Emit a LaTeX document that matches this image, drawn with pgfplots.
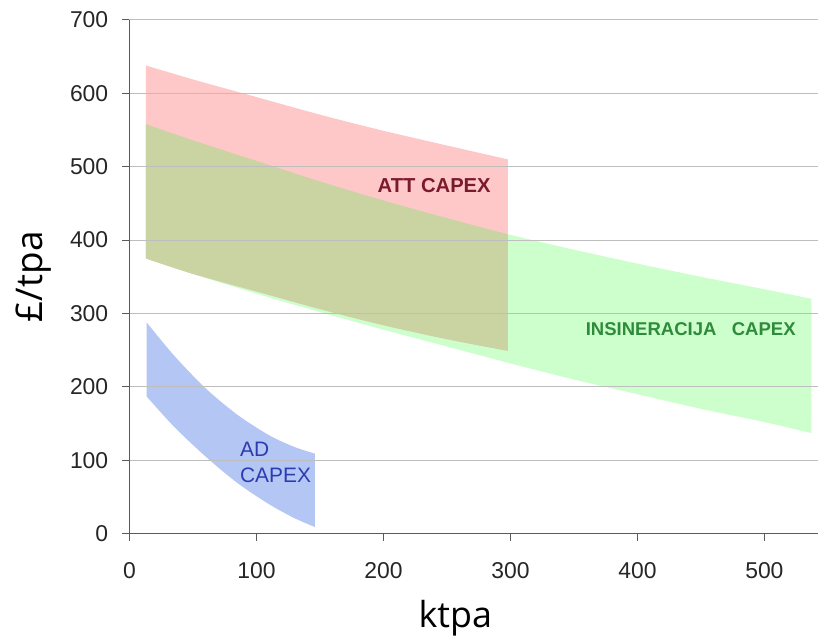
\documentclass[border=0pt]{standalone}
\usepackage{pgfplots}
\pgfplotsset{compat=1.18}
\usepgfplotslibrary{fillbetween}
\usepackage{fontspec}
\setmainfont{Liberation Sans}
\newfontfamily\labelfont{Open Sans}
\definecolor{attfill}{RGB}{255,200,200}
\definecolor{insfill}{RGB}{204,255,204}
\definecolor{overlapfill}{RGB}{202,212,162}
\definecolor{adfill}{RGB}{180,198,243}
\definecolor{atttext}{RGB}{122,26,46}
\definecolor{instext}{RGB}{46,139,58}
\definecolor{adtext}{RGB}{44,60,176}
\definecolor{axisgray}{RGB}{90,90,90}
\definecolor{gridgray}{RGB}{190,190,190}
\begin{document}
\begin{tikzpicture}
\begin{axis}[
  scale only axis, width=689.5bp, height=514bp,
  xmin=0, xmax=542.5, ymin=0, ymax=700,
  axis lines=left, axis line style={-, axisgray, line width=1.3bp},
  xtick={0,100,...,500}, ytick={0,100,...,700},
  tick align=outside, major tick length=7bp,
  tick style={axisgray, line width=1bp},
  ymajorgrids, grid style={gridgray, line width=1bp},
  axis on top,
  tick label style={font=\fontsize{23}{23}\selectfont, text=black!85},
  /pgf/number format/assume math mode=true,
  yticklabel style={anchor=east, inner sep=0pt, xshift=-14bp},
  xticklabel style={anchor=north, inner sep=0pt, yshift=-22bp},
  xlabel={ktpa}, ylabel={£/tpa},
  xlabel style={font=\labelfont\fontsize{36}{36}\selectfont, at={(axis description cs:0.473,-0.183)}, anchor=base},
  ylabel style={font=\labelfont\fontsize{37}{37}\selectfont, at={(axis description cs:-0.1255,0.5)}, anchor=base, rotate=0},
]
% boundary curves
\addplot[name path=instop, draw=none, smooth] coordinates {
 (13,558) (50,536) (100,508) (150,480) (200,454) (250,430) (298,408) (350,387) (400,368) (450,350) (500,333) (537,320)};
\addplot[name path=instopleft, draw=none, smooth] coordinates {
 (13,558) (50,536) (100,508) (150,480) (200,454) (250,430) (298,408)};
\addplot[name path=insbot, draw=none, smooth] coordinates {
 (13,375) (50,354) (100,327) (150,302) (200,278) (250,255) (300,232) (350,210) (400,190) (450,170) (500,152) (537,137)};
\addplot[name path=atttop, draw=none, smooth] coordinates {
 (13,638) (50,619) (100,595) (150,571) (200,549) (250,529) (298,510)};
\addplot[name path=attbot, draw=none, smooth] coordinates {
 (13,375) (50,354) (100,330) (150,306) (200,284) (250,265) (298,249)};
\addplot[name path=adtop, draw=none, smooth] coordinates {
 (13.5,288) (35,243) (60,198) (85,162) (110,134) (130,118) (146,109)};
\addplot[name path=adbot, draw=none, smooth] coordinates {
 (13.5,187) (35,146) (60,105) (85,69) (110,40) (130,21) (146,9)};
% fills
\addplot[insfill, draw=none] fill between[of=instop and insbot];
\addplot[attfill, draw=none] fill between[of=atttop and attbot];
\addplot[overlapfill, draw=none] fill between[of=instopleft and attbot];
\addplot[adfill, draw=none] fill between[of=adtop and adbot];
\node[text=atttext, font=\bfseries\fontsize{20.3}{20.3}\selectfont, inner sep=0pt] at (axis cs:240,475) {ATT CAPEX};
\node[text=instext, font=\bfseries\fontsize{18.6}{18.6}\selectfont, inner sep=0pt] at (axis cs:442,278) {INSINERACIJA~~~CAPEX};
\node[text=adtext, font=\fontsize{21}{26.7}\selectfont, inner sep=0pt, anchor=west, align=left] at (axis cs:87,97) {AD\\CAPEX};
\end{axis}
\path[use as bounding box] (-129.5bp,-103bp) rectangle (689.5bp,534bp);
\end{tikzpicture}
\end{document}
